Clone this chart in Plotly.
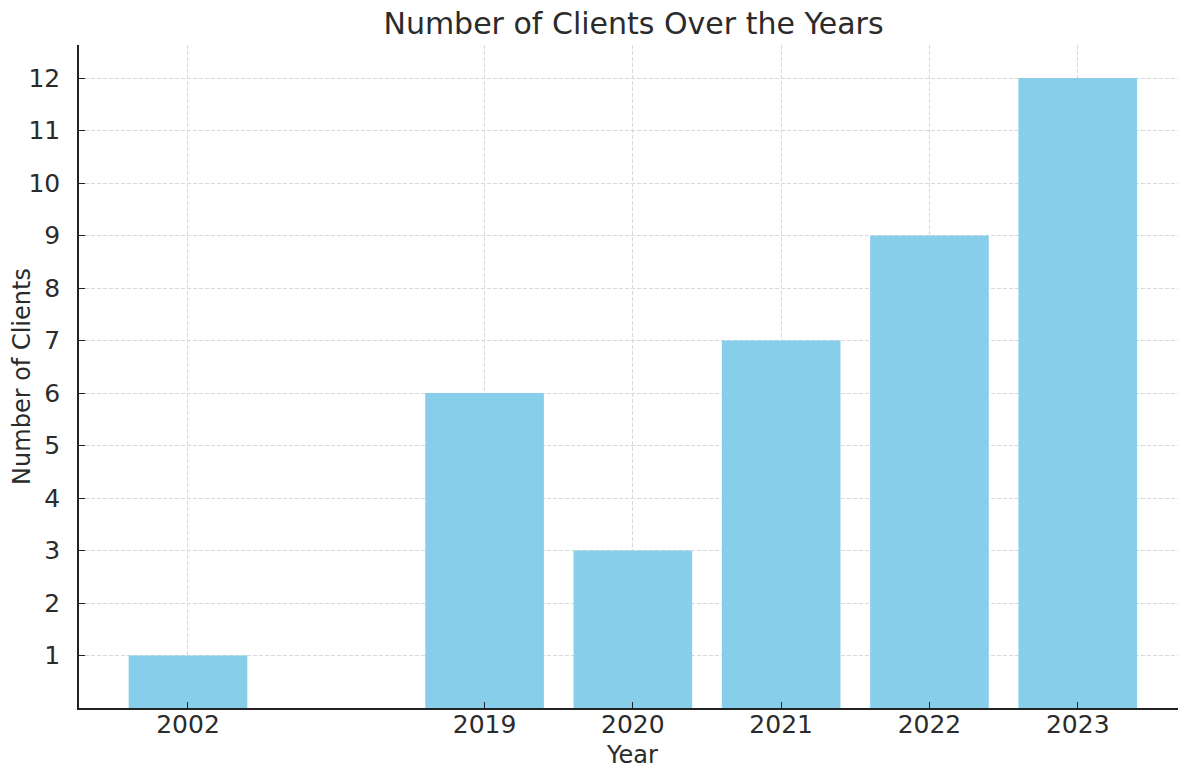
import plotly.graph_objects as go

years = ["2002", "2019", "2020", "2021", "2022", "2023"]
clients = [1, 6, 3, 7, 9, 12]
category_order = ["2002", "gap", "2019", "2020", "2021", "2022", "2023"]
y_ticks = list(range(1, 13))

font_family = "DejaVu Sans, sans-serif"
text_color = "#2b2b2b"
grid_color = "#d9d9d9"

fig = go.Figure(
    go.Bar(
        x=years,
        y=clients,
        marker=dict(color="#87CEEB", line=dict(width=0)),
        hovertemplate="Year %{x}<br>Clients %{y}<extra></extra>",
    )
)

fig.update_layout(
    width=1178,
    height=761,
    margin=dict(l=71, r=0, t=37, b=61),
    paper_bgcolor="white",
    plot_bgcolor="white",
    bargap=0.2,
    showlegend=False,
    font=dict(family=font_family, color=text_color, size=25),
    title=dict(
        text="Number of Clients Over the Years",
        x=0.531,
        xanchor="center",
        y=0.98,
        yanchor="middle",
        font=dict(size=30, color=text_color),
    ),
)

fig.update_xaxes(
    type="category",
    categoryorder="array",
    categoryarray=category_order,
    tickmode="array",
    tickvals=years,
    ticktext=years,
    range=[-0.735, 6.73],
    showline=True,
    linecolor="#222222",
    linewidth=1.5,
    ticks="inside",
    ticklen=6,
    tickwidth=1.2,
    tickcolor="#222222",
    ticklabelstandoff=-7,
    tickfont=dict(size=25),
    showgrid=True,
    gridcolor=grid_color,
    griddash="4px,2px",
    gridwidth=1,
    zeroline=False,
    automargin=False,
    title=dict(text="Year", font=dict(size=24), standoff=18),
)

fig.update_yaxes(
    range=[0, 12.63],
    tickmode="array",
    tickvals=y_ticks,
    showline=True,
    linecolor="#222222",
    linewidth=1.5,
    ticks="inside",
    ticklen=6,
    tickwidth=1.2,
    tickcolor="#222222",
    ticklabelstandoff=12,
    tickfont=dict(size=25),
    showgrid=True,
    gridcolor=grid_color,
    griddash="4px,2px",
    gridwidth=1,
    zeroline=False,
    automargin=False,
    title=dict(text="Number of Clients", font=dict(size=24), standoff=6),
)

fig.write_html("out.html")
